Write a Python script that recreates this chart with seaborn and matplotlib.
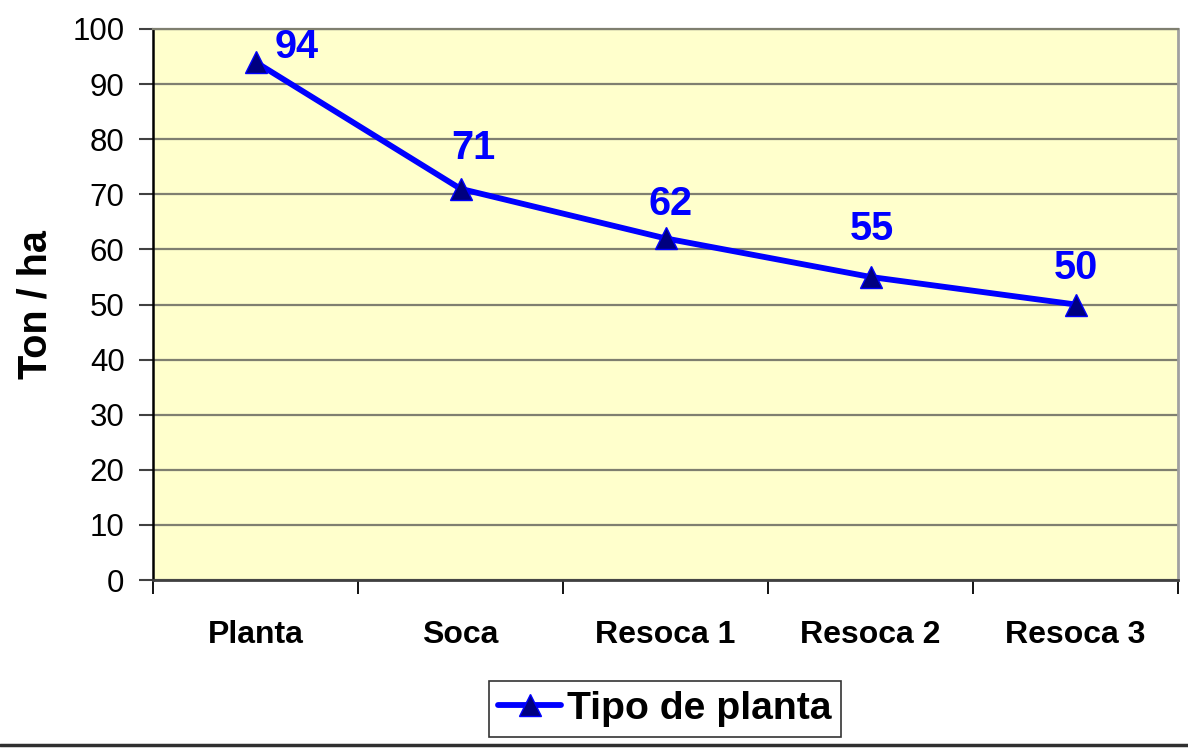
import matplotlib
matplotlib.use("Agg")
import matplotlib.pyplot as plt
import seaborn as sns
import pandas as pd
from matplotlib.lines import Line2D

categories = ["Planta", "Soca", "Resoca 1", "Resoca 2", "Resoca 3"]
values = [94, 71, 62, 55, 50]
series_name = "Tipo de planta"
y_ticks = [0, 10, 20, 30, 40, 50, 60, 70, 80, 90, 100]

sns.set_theme(style="white")
plt.rcParams["font.family"] = ["Liberation Sans", "DejaVu Sans"]
plt.rcParams["text.color"] = "black"
plt.rcParams["axes.labelcolor"] = "black"
plt.rcParams["xtick.color"] = "black"
plt.rcParams["ytick.color"] = "black"

df = pd.DataFrame({"x": range(len(categories)), "y": values, "cat": categories})

fig = plt.figure(figsize=(11.88, 7.48), dpi=100)
ax = fig.add_axes([153/1188, 1 - 580/748, (1178-153)/1188, (580-29)/748])
ax.set_facecolor("#FFFFCC")

sns.lineplot(data=df, x="x", y="y", ax=ax, color="#0000FF", linewidth=4.2,
             marker="^", markersize=16, markerfacecolor="#000080",
             markeredgecolor="#0000FF", markeredgewidth=1.0, sort=False, legend=False,
             solid_capstyle="round")

ax.set_xlim(-0.5, len(categories) - 0.5)
ax.set_ylim(0, 100)
ax.set_yticks(y_ticks)
ax.set_yticklabels([str(t) for t in y_ticks], fontsize=22.5)
ax.yaxis.grid(True, color="#7f7f70", linewidth=1.6)
ax.set_axisbelow(True)

ax.set_xticks(range(len(categories)))
ax.set_xticklabels(categories, fontsize=23, fontweight="bold")
ax.set_xticks([i - 0.5 for i in range(len(categories) + 1)], minor=True)
ax.tick_params(axis="x", which="major", length=0, pad=29, labelcolor="black")
ax.tick_params(axis="x", which="minor", length=10, width=1.3, color="black", direction="out", bottom=True)
ax.tick_params(axis="y", which="major", length=10, width=1.5, color="#404040", direction="out",
               pad=10.5, left=True, labelcolor="black")
ax.set_xlabel("")
ax.set_ylabel("Ton / ha", fontsize=28.5, fontweight="bold", labelpad=13, color="black")

ax.spines["left"].set_color("black")
ax.spines["left"].set_linewidth(1.8)
ax.spines["bottom"].set_color("#404040")
ax.spines["bottom"].set_linewidth(2.0)
ax.spines["right"].set_color("#a0a0a0")
ax.spines["right"].set_linewidth(2.0)
ax.spines["top"].set_color("#7f7f70")
ax.spines["top"].set_linewidth(1.6)

offsets = [(29.5, 11), (9.4, 29.5), (3.6, 24.5), (0.7, 34.5), (0, 26.6)]
for i, v in enumerate(values):
    ax.annotate(str(v), (i, v), xytext=offsets[i], textcoords="offset points",
                ha="center", va="center", fontsize=28.5, fontweight="bold",
                color="#0000FF", annotation_clip=False)

handle = Line2D([0], [0], color="#0000FF", linewidth=4.2, marker="^", markersize=16,
                markerfacecolor="#000080", markeredgecolor="#0000FF", solid_capstyle="round")
leg = fig.legend([handle], [series_name], loc="center", bbox_to_anchor=(665/1188, 1 - 709/748),
                 frameon=True, fancybox=False, handlelength=1.6,
                 handletextpad=0.15, borderpad=0.25, prop={"weight": "bold", "size": 28.2})
leg.get_frame().set_edgecolor("black")
leg.get_frame().set_linewidth(1.2)
for t in leg.get_texts():
    t.set_color("black")

fig.add_artist(Line2D([0, 1], [1 - 745/748, 1 - 745/748], transform=fig.transFigure,
                      color="#303030", linewidth=2.5))

fig.savefig("out.png", dpi=100, facecolor="white")
